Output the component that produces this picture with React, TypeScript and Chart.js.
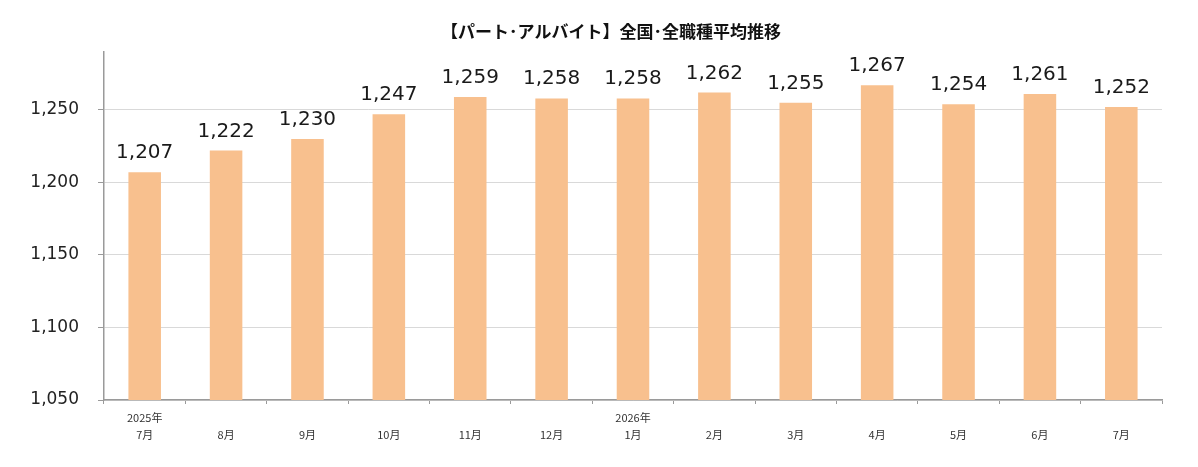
import { useEffect, useRef } from 'react';
import { Chart, registerables } from 'chart.js';

Chart.register(...registerables);

const months = [
    ['2025年', '7月'],
    ['', '8月'],
    ['', '9月'],
    ['', '10月'],
    ['', '11月'],
    ['', '12月'],
    ['2026年', '1月'],
    ['', '2月'],
    ['', '3月'],
    ['', '4月'],
    ['', '5月'],
    ['', '6月'],
    ['', '7月'],
];

const wages = [1207, 1222, 1230, 1247, 1259, 1258, 1258, 1262, 1255, 1267, 1254, 1261, 1252];

const titleText = '【パート･アルバイト】全国･全職種平均推移';

const numberFont = '"DejaVu Sans", Verdana, sans-serif';
const jpFont = '"Noto Sans CJK JP", "Noto Sans", sans-serif';

// title sits a bit right of the canvas centre in the original
const chartTitle = {
    id: 'chartTitle',
    afterDraw(chart: Chart) {
        const ctx = chart.ctx;
        ctx.save();
        ctx.font = `bold 17px ${jpFont}`;
        ctx.fillStyle = '#111';
        ctx.textAlign = 'center';
        ctx.textBaseline = 'middle';
        ctx.fillText(titleText, 611, 32);
        ctx.restore();
    },
};

const valueLabels = {
    id: 'valueLabels',
    afterDatasetsDraw(chart: Chart) {
        const ctx = chart.ctx;
        const meta = chart.getDatasetMeta(0);
        ctx.save();
        ctx.font = `20px ${numberFont}`;
        ctx.fillStyle = '#1a1a1a';
        ctx.textAlign = 'center';
        ctx.textBaseline = 'alphabetic';
        meta.data.forEach((bar: any, i: number) => {
            ctx.fillText(wages[i].toLocaleString('en-US'), bar.x, bar.y - 14);
        });
        ctx.restore();
    },
};

export default function App() {
    const chartRef = useRef<HTMLCanvasElement>(null);
    const chartInstance = useRef<Chart | null>(null);

    useEffect(() => {
        if (chartRef.current) {
            if (chartInstance.current) {
                chartInstance.current.destroy();
            }
            const ctx = chartRef.current.getContext('2d');
            if (ctx) {
                chartInstance.current = new Chart(ctx, {
                    type: 'bar',
                    data: {
                        labels: months,
                        datasets: [{
                            data: wages,
                            backgroundColor: '#f8c08e',
                            borderWidth: 0,
                            barPercentage: 0.4,
                            categoryPercentage: 1,
                        }],
                    },
                    options: {
                        animation: false,
                        responsive: false,
                        maintainAspectRatio: false,
                        layout: {
                            padding: { top: 52, right: 36, bottom: 0, left: 0 },
                        },
                        plugins: {
                            legend: { display: false },
                            tooltip: { enabled: false },
                        },
                        scales: {
                            x: {
                                grid: {
                                    offset: true,
                                    drawOnChartArea: false,
                                    drawTicks: true,
                                    tickLength: 4,
                                    tickColor: '#9a9a9a',
                                },
                                border: { color: '#9a9a9a', width: 1.5 },
                                ticks: {
                                    color: '#333',
                                    padding: 5,
                                    maxRotation: 0,
                                    autoSkip: false,
                                    font: { family: jpFont, size: 11, lineHeight: 1.55 },
                                },
                                afterFit: (scale: any) => {
                                    scale.height = 67;
                                },
                            },
                            y: {
                                min: 1050,
                                max: 1290,
                                ticks: {
                                    stepSize: 50,
                                    color: '#222',
                                    padding: 19,
                                    font: { family: numberFont, size: 17 },
                                    callback: (v: any) => Number(v).toLocaleString('en-US'),
                                },
                                afterBuildTicks: (axis: any) => {
                                    axis.ticks = axis.ticks.filter((t: any) => t.value % 50 === 0);
                                },
                                grid: {
                                    color: '#d9d9d9',
                                    tickColor: '#9a9a9a',
                                    tickLength: 6,
                                },
                                border: { color: '#9a9a9a', width: 1.5 },
                                afterFit: (scale: any) => {
                                    scale.width = 104;
                                },
                            },
                        },
                    },
                    plugins: [valueLabels, chartTitle],
                });
            }
        }
        return () => {
            if (chartInstance.current) {
                chartInstance.current.destroy();
                chartInstance.current = null;
            }
        };
    }, []);

    return (
        <div style={{ position: 'absolute', left: 0, top: 0, width: 1198, height: 467, background: '#fff' }}>
            <canvas ref={chartRef} width={1198} height={467}></canvas>
        </div>
    );
}
